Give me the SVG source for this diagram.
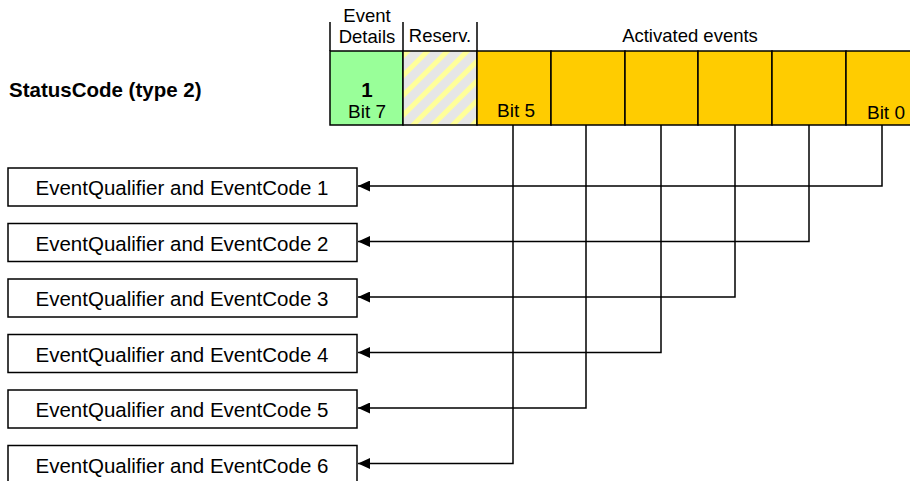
<svg xmlns="http://www.w3.org/2000/svg" width="910" height="481" viewBox="0 0 910 481">
<style>
text{font-family:"Liberation Sans",Arial,sans-serif;font-size:20.5px;fill:#000}
.b{font-weight:bold}
.m{text-anchor:middle}
.h{font-size:18.5px}
.s{font-size:19px}
.cell{stroke:#000;stroke-width:1.5}
.box{fill:#fff;stroke:#000;stroke-width:1.5}
.ln{fill:none;stroke:#000;stroke-width:1.5}
</style>
<defs>
<pattern id="hatch" patternUnits="userSpaceOnUse" width="14" height="14" patternTransform="rotate(-45)">
<rect width="14" height="14" fill="#e6e6e6"/>
<rect width="14" height="5" fill="#ffff99"/>
</pattern>
<marker id="ah" viewBox="0 0 12 11" refX="12" refY="5.5" markerWidth="12" markerHeight="11" markerUnits="userSpaceOnUse" orient="auto">
<path d="M0,0 L12,5.5 L0,11 z" fill="#000"/>
</marker>
</defs>
<g id="title"><text class="b" x="9" y="97">StatusCode (type 2)</text></g>
<g id="header">
<path class="ln" d="M330,22V51M403,22V51M477,22V51"/>
<text class="m h" x="367" y="22">Event</text>
<text class="m h" x="367" y="43">Details</text>
<text class="m h" x="440" y="42">Reserv.</text>
<text class="m h" x="690" y="42">Activated events</text>
</g>
<g id="bit7"><rect class="cell" x="330" y="51" width="73" height="74" fill="#99ff99"/>
<text class="b m" x="367" y="97">1</text><text class="m s" x="367" y="118">Bit 7</text></g>
<g id="bit6"><rect class="cell" x="403" y="51" width="74" height="74" fill="url(#hatch)"/></g>
<g id="bit5"><rect class="cell" x="477" y="51" width="74" height="74" fill="#ffcc00"/><text class="s" x="497" y="117">Bit 5</text></g>
<g id="bit4"><rect class="cell" x="551" y="51" width="74" height="74" fill="#ffcc00"/></g>
<g id="bit3"><rect class="cell" x="625" y="51" width="73" height="74" fill="#ffcc00"/></g>
<g id="bit2"><rect class="cell" x="698" y="51" width="74" height="74" fill="#ffcc00"/></g>
<g id="bit1"><rect class="cell" x="772" y="51" width="74" height="74" fill="#ffcc00"/></g>
<g id="bit0"><rect class="cell" x="846" y="51" width="74" height="74" fill="#ffcc00"/><text class="s" x="905" y="119" text-anchor="end">Bit 0</text></g>
<g id="box1"><rect class="box" x="8" y="168" width="349" height="38"/><text class="m" x="182" y="195">EventQualifier and EventCode 1</text></g>
<g id="box2"><rect class="box" x="8" y="223.5" width="349" height="38"/><text class="m" x="182" y="250.5">EventQualifier and EventCode 2</text></g>
<g id="box3"><rect class="box" x="8" y="279" width="349" height="38"/><text class="m" x="182" y="306">EventQualifier and EventCode 3</text></g>
<g id="box4"><rect class="box" x="8" y="334.5" width="349" height="38"/><text class="m" x="182" y="361.5">EventQualifier and EventCode 4</text></g>
<g id="box5"><rect class="box" x="8" y="390" width="349" height="38"/><text class="m" x="182" y="417">EventQualifier and EventCode 5</text></g>
<g id="box6"><rect class="box" x="8" y="445.5" width="349" height="38"/><text class="m" x="182" y="472.5">EventQualifier and EventCode 6</text></g>
<g id="connectors">
<path class="ln" marker-end="url(#ah)" d="M882,125V186H358"/>
<path class="ln" marker-end="url(#ah)" d="M809,125V241.5H358"/>
<path class="ln" marker-end="url(#ah)" d="M735,125V297H358"/>
<path class="ln" marker-end="url(#ah)" d="M661,125V352.5H358"/>
<path class="ln" marker-end="url(#ah)" d="M586,125V408H358"/>
<path class="ln" marker-end="url(#ah)" d="M513,125V463.5H358"/>
</g>
</svg>
